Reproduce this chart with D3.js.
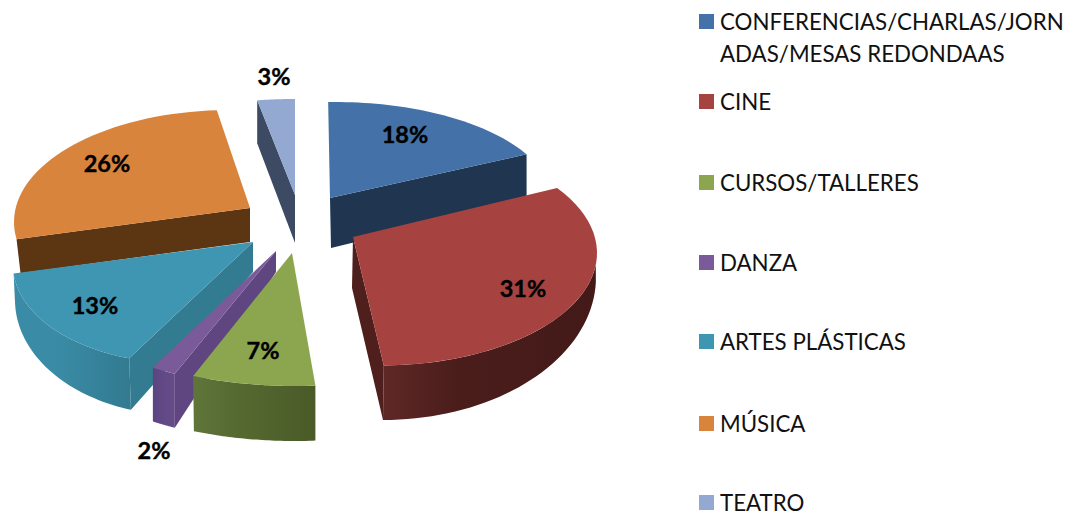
<!DOCTYPE html>
<html><head><meta charset="utf-8">
<script src="https://cdn.jsdelivr.net/npm/d3@7/dist/d3.min.js"></script>
<style>html,body{margin:0;padding:0;background:#fff}svg{display:block}</style>
</head><body><svg id="c" width="1068" height="515"></svg>
<script>
const categories = ["CONFERENCIAS/CHARLAS/JORNADAS/MESAS REDONDAAS","CINE","CURSOS/TALLERES","DANZA","ARTES PLÁSTICAS","MÚSICA","TEATRO"];
const values = [18,31,7,2,13,26,3];
const legendLines = [["CONFERENCIAS/CHARLAS/JORN","ADAS/MESAS REDONDAAS"],["CINE"],["CURSOS/TALLERES"],["DANZA"],["ARTES PLÁSTICAS"],["MÚSICA"],["TEATRO"]];

// styling
const topColors = ["#4472a8","#a64341","#8ba64e","#7a5a99","#3f96b2","#d9843d","#93a9d1"];
const faceColors = ["#1f3550","#4f1f1d",null,"#5f4680","#327b90","#5c3513","#3c4a63"];
const rimStops = [null,["#5f2826","#4a1d1b","#431a18"],["#60753a","#556a30","#4a5a28"],["#5c4480","#604884","#664d88"],["#3a8ba6","#3a8ca6","#327a90"],null,null];

// the reference is a distorted 3-D projection: each exploded slice has its own ellipses
const geometry = [
 {apex:[330,198],apexB:[331,248],top:[335,202,218,100],bot:[335,248,218,100],t:[-1.8,61.5],face:1},
 {apex:[353,237],apexB:[352,288],top:[380,253,217,112.5],bot:[383,277,213,143],t:[54.7,179],b:[54,180],face:1,rim:[96,179],rimB:[92,180]},
 {apex:[292,253],top:[295,286,234,100],bot:[295,341,234,100],t:[175,205.8],b:[175,205.6],rim:[175,205.8],rimB:[175,205.6]},
 {apex:[276,251],apexB:[276,272],top:[295,288,234,100],bot:[295,342,234,100],t:[210.9,217.4],face:0,rim:[210.9,217.4],rimB:[210.9,217.4]},
 {apex:[253,242],apexB:[253,272],top:[180,265,167,98],bot:[180,300,165,115],t:[197.7,265],b:[197.3,268],face:0,rim:[197.7,265],rimB:[197.3,268]},
 {apex:[250,208],apexB:[250,242],top:[230,222,216,112],bot:[231,256,213,112],t:[261.2,356.5],face:0},
 {apex:[295,195],apexB:[295,243],top:[295,199,234,100],bot:[295,242,234,100],t:[350.7,360],face:0}
];
const drawOrder = [0,6,5,4,3,2,1];
const labelPos = [[405,135],[523,289],[263,351],[154,451],[95,306],[107,164],[274,77]];
const legendX = 699, legendBox = 15, legendTextX = 720, lineGap = 32;
const legendY = [22,102,183,263,342,424,503];

const svg = d3.select("#c");
const defs = svg.append("defs");
rimStops.forEach((s,i)=>{ if(!s) return;
  const g = defs.append("linearGradient").attr("id","rim"+i).attr("x1",0).attr("x2",1).attr("y1",0).attr("y2",0);
  s.forEach((c,k)=>g.append("stop").attr("offset",k===1?0.35:k/2).attr("stop-color",c));
});

const rad = d=>d*Math.PI/180;
const pt = (e,t)=>[e[0]+e[2]*Math.sin(rad(t)), e[1]-e[3]*Math.cos(rad(t))];
const line = d3.line();
const pie = d3.pie().sort(null).startAngle(0).endAngle(2*Math.PI);
const arcs = pie(values);
const sweep = (e,a,b)=>d3.range(0,41).map(k=>pt(e,a+(b-a)*k/40));

drawOrder.forEach(i=>{
  const g = geometry[i], d = arcs[i];
  const layer = svg.append("g");
  const toT = d3.scaleLinear().domain([d.startAngle,d.endAngle]).range(g.t);
  const topPts = d3.range(0,41).map(k=>pt(g.top,toT(d.startAngle+(d.endAngle-d.startAngle)*k/40)));
  const bT = g.b || g.t;
  if(g.face!==undefined){
    const tf = g.t[g.face], bf = bT[g.face];
    layer.append("path").attr("d",line([g.apex,pt(g.top,tf),pt(g.bot,bf),g.apexB])+"Z").attr("fill",faceColors[i]);
  }
  if(g.rim){
    const pts = sweep(g.top,g.rim[0],g.rim[1]).concat(sweep(g.bot,g.rimB[0],g.rimB[1]).reverse());
    layer.append("path").attr("d",line(pts)+"Z").attr("fill","url(#rim"+i+")");
  }
  layer.append("path").attr("d",line([g.apex,...topPts])+"Z").attr("fill",topColors[i]);
});

svg.append("g").selectAll("text").data(arcs).join("text")
  .attr("x",(d,i)=>labelPos[i][0]).attr("y",(d,i)=>labelPos[i][1]).attr("dy","0.35em")
  .attr("text-anchor","middle").attr("font-family","Lato, 'Open Sans', sans-serif")
  .attr("font-weight",700).attr("font-size",23.5).attr("fill","#000")
  .attr("stroke","#000").attr("stroke-width",0.4)
  .text(d=>d.value+"%");

const leg = svg.append("g").selectAll("g").data(categories).join("g");
leg.append("rect").attr("x",legendX).attr("y",(d,i)=>legendY[i]-legendBox/2-.5)
  .attr("width",legendBox).attr("height",legendBox).attr("fill",(d,i)=>topColors[i]);
leg.each(function(d,i){
  d3.select(this).selectAll("text").data(legendLines[i]).join("text")
    .attr("x",legendTextX).attr("y",(l,j)=>legendY[i]+j*lineGap).attr("dy","0.35em")
    .attr("font-family","Lato, 'Open Sans', sans-serif").attr("font-size",22.3).attr("fill","#111")
    .text(l=>l);
});
</script></body></html>
